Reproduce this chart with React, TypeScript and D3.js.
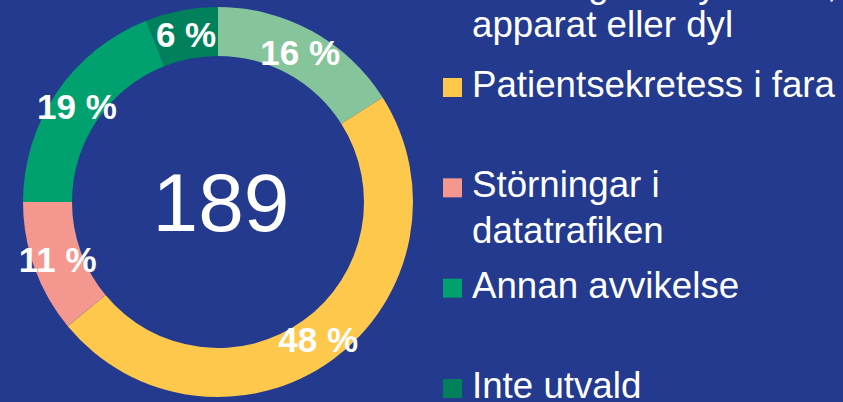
import * as React from "react";
import * as d3 from "d3";

// share of incidents per category, clockwise from 12 o'clock
const categories = [
  "Störning i IT-systemet, apparat eller dyl",
  "Patientsekretess i fara",
  "Störningar i datatrafiken",
  "Annan avvikelse",
  "Inte utvald",
];
const values = [16, 48, 11, 19, 6];
const sliceOrder = [0, 1, 2, 3, 4];
const colors = ["#86c59b", "#fdc84b", "#f4978f", "#00a06f", "#00805b"];
const legendLines = [
  ["Störning i IT-systemet,", "apparat eller dyl"],
  ["Patientsekretess i fara"],
  ["Störningar i", "datatrafiken"],
  ["Annan avvikelse"],
  ["Inte utvald"],
];
const total = 189;

function drawChart(svgRef: React.RefObject<SVGSVGElement>) {
  const w = 843;
  const h = 402;
  const svg = d3.select(svgRef.current);
  svg.selectAll("*").remove();

  svg.attr("width", w).attr("height", h).style("background", "#233a8f");

  const cx = 218;
  const cy = 202;
  const outerR = 195;
  const innerR = 146;

  const pie = d3
    .pie<number>()
    .sort(null)
    .value((i) => values[i]);
  const arc = d3.arc<d3.PieArcDatum<number>>().innerRadius(innerR).outerRadius(outerR);

  const g = svg.append("g").attr("transform", `translate(${cx},${cy})`);
  const arcs = pie(sliceOrder);

  g.selectAll("path")
    .data(arcs)
    .join("path")
    .attr("d", arc)
    .attr("fill", (d) => colors[d.data]);

  // percent labels on the ring
  g.selectAll("text.pct")
    .data(arcs)
    .join("text")
    .attr("class", "pct")
    .attr("x", (d) => arc.centroid(d)[0])
    .attr("y", (d) => arc.centroid(d)[1])
    .attr("text-anchor", "middle")
    .attr("dominant-baseline", "central")
    .attr("font-family", "Liberation Sans, Arial, sans-serif")
    .attr("font-weight", "bold")
    .attr("font-size", 35)
    .attr("fill", "#ffffff")
    .text((d) => `${values[d.data]} %`);

  // total in the middle
  g.append("text")
    .attr("x", 3)
    .attr("y", 29)
    .attr("text-anchor", "middle")
    .attr("font-family", "Liberation Sans, Arial, sans-serif")
    .attr("font-size", 82)
    .attr("fill", "#ffffff")
    .text(total);

  // legend (first item sits partly above the top edge, as in the original)
  const legendY = d3.scaleLinear().domain([1, categories.length - 1]).range([97, 398]);
  const box = 19;

  const items = svg
    .selectAll("g.legend")
    .data(categories)
    .join("g")
    .attr("class", "legend")
    .attr("transform", (d, i) => `translate(443,${i === 0 ? -3 : legendY(i)})`);

  items
    .append("rect")
    .attr("x", 0)
    .attr("y", -box)
    .attr("width", box)
    .attr("height", box)
    .attr("fill", (d, i) => colors[i]);

  items
    .append("text")
    .attr("font-family", "Liberation Sans, Arial, sans-serif")
    .attr("font-size", 36.7)
    .attr("fill", "#ffffff")
    .selectAll("tspan")
    .data((d, i) => legendLines[i].map((t) => ({ t, gap: i === 0 ? 40 : 46 })))
    .join("tspan")
    .attr("x", 29)
    .attr("y", (d, j) => j * d.gap)
    .text((d) => d.t);
}

const Chart: React.FunctionComponent = () => {
  const svg = React.useRef<SVGSVGElement>(null);
  React.useEffect(() => {
    drawChart(svg);
  }, [svg]);

  return (
    <div id="chart" style={{ position: "fixed", left: 0, top: 0 }}>
      <svg ref={svg} style={{ display: "block" }} />
    </div>
  );
};

export default Chart;
